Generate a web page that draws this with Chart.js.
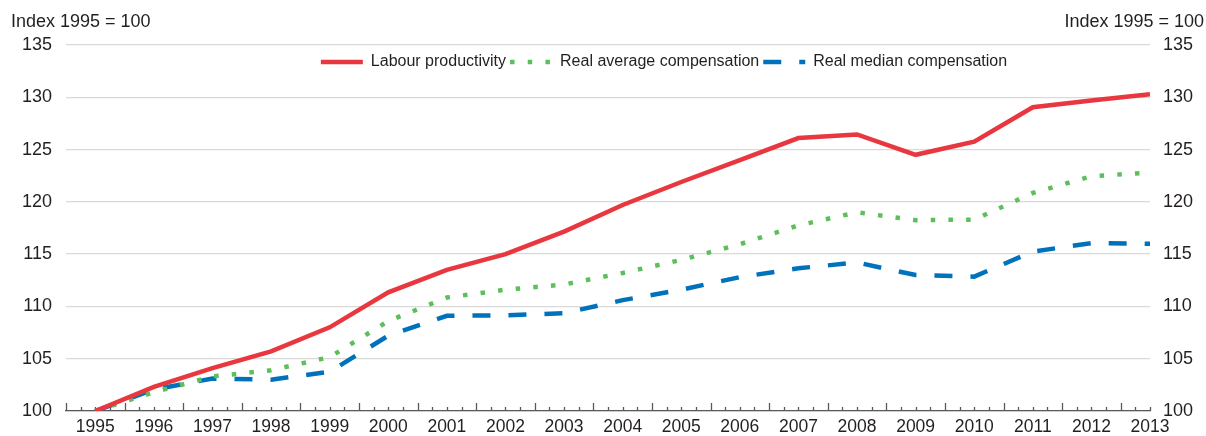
<!DOCTYPE html>
<html>
<head>
<meta charset="utf-8">
<script src="https://cdn.jsdelivr.net/npm/chart.js@4"></script>
<style>
html,body{margin:0;padding:0;background:#fff;}
canvas{display:block;}
</style>
</head>
<body>
<canvas id="c" width="1206" height="436"></canvas>
<script>
const years = [1995,1996,1997,1998,1999,2000,2001,2002,2003,2004,2005,2006,2007,2008,2009,2010,2011,2012,2013];
const labourProductivity      = [100,102.3,104.1,105.7,108.0,111.35,113.5,115.0,117.15,119.7,121.9,124.0,126.1,126.45,124.5,125.75,129.05,129.7,130.3];
const realAverageCompensation = [100,101.8,103.3,103.9,105.15,108.6,110.85,111.6,112.1,113.2,114.45,115.95,117.75,119.0,118.25,118.3,120.85,122.45,122.8];
const realMedianCompensation  = [100,102.05,103.1,103.0,103.75,107.2,109.1,109.15,109.35,110.6,111.6,112.8,113.65,114.2,113.0,112.85,115.25,116.05,116.0];
const yTicks = [100,105,110,115,120,125,130,135];
const seriesNames = ['Labour productivity','Real average compensation','Real median compensation'];
const unitLabel = 'Index 1995 = 100';

const FONT = "'Liberation Sans', Arial, sans-serif";
const TEXT = '#231f20';
const RED = '#E8373F';
const GREEN = '#5DBE5C';
const BLUE = '#0072BC';

const pts = vals => years.map((y, i) => ({ x: y, y: vals[i] }));

const unitPlugin = {
  id: 'unitText',
  afterDraw(chart) {
    const ctx = chart.ctx;
    ctx.save();
    ctx.font = '18px ' + FONT;
    ctx.fillStyle = TEXT;
    ctx.textBaseline = 'middle';
    ctx.textAlign = 'left';
    ctx.fillText(unitLabel, 11, 22);
    ctx.textAlign = 'right';
    ctx.fillText(unitLabel, 1204, 22);
    ctx.restore();
  }
};

const tickPlugin = {
  id: 'quarterTicks',
  beforeDatasetsDraw(chart) {
    const xs = chart.scales.x;
    const ctx = chart.ctx;
    const yb = chart.chartArea.bottom;
    ctx.save();
    ctx.strokeStyle = '#595959';
    ctx.lineWidth = 1.3;
    for (let k = 0; ; k++) {
      const v = xs.min + k * 0.25;
      if (v > xs.max + 1e-9) break;
      const major = k % 4 === 0;
      const px = Math.round(xs.getPixelForValue(v)) + 0.5;
      ctx.beginPath();
      ctx.moveTo(px, yb);
      ctx.lineTo(px, yb - (major ? 8 : 4));
      ctx.stroke();
    }
    ctx.restore();
  }
};

const legendShift = {
  id: 'legendShift',
  afterLayout(chart) {
    const lg = chart.legend;
    if (!lg) return;
    const dx = 61, dy = 5, h = 28;
    lg.left += dx; lg.right += dx;
    lg.top += dy;
    lg.bottom = lg.top + h;
    lg.height = h;
  }
};

const tickFont = { family: FONT, size: 18 };

new Chart(document.getElementById('c'), {
  type: 'line',
  data: {
    datasets: [
      { label: seriesNames[0], data: pts(labourProductivity), borderColor: RED, backgroundColor: RED,
        borderWidth: 4.5, pointRadius: 0, tension: 0, borderCapStyle: 'butt' },
      { label: seriesNames[1], data: pts(realAverageCompensation), borderColor: GREEN, backgroundColor: GREEN,
        borderWidth: 4.5, pointRadius: 0, tension: 0, borderDash: [4.5, 13.2], borderCapStyle: 'butt' },
      { label: seriesNames[2], data: pts(realMedianCompensation), borderColor: BLUE, backgroundColor: BLUE,
        borderWidth: 4.5, pointRadius: 0, tension: 0, borderDash: [18, 18], borderCapStyle: 'butt' }
    ]
  },
  options: {
    responsive: false,
    animation: false,
    layout: { padding: { top: 45, left: 0, right: 0, bottom: 0 } },
    plugins: {
      legend: {
        position: 'top',
        maxHeight: 0.001,
        labels: {
          usePointStyle: true, pointStyle: 'line', pointStyleWidth: 42,
          padding: 4, color: TEXT, font: { family: FONT, size: 16 },
          generateLabels: chart => {
            const items = Chart.defaults.plugins.legend.labels.generateLabels(chart);
            items.forEach(it => {
              const ds = chart.data.datasets[it.datasetIndex];
              it.lineDash = ds.borderDash || [];
              it.lineWidth = ds.borderWidth;
              it.strokeStyle = ds.borderColor;
              it.fillStyle = ds.borderColor;
              it.lineCap = 'butt';
              it.pointStyle = 'line';
            });
            return items;
          }
        }
      },
      tooltip: { enabled: false }
    },
    scales: {
      x: {
        type: 'linear', min: 1994.5, max: 2013,
        afterBuildTicks: s => { s.ticks = years.map(v => ({ value: v })); },
        afterFit: s => { s.height = 25; },
        grid: { display: false, drawTicks: false },
        border: { display: true, color: '#595959', width: 1.3 },
        ticks: { color: TEXT, font: { family: FONT, size: 17.5 }, padding: 6, maxRotation: 0, autoSkip: false,
                 callback: v => String(v) }
      },
      y: {
        position: 'left', min: 100, max: 135,
        afterBuildTicks: s => { s.ticks = yTicks.map(v => ({ value: v })); },
        afterFit: s => { s.width = 66; },
        grid: { color: '#d9d9d9', lineWidth: 1.3, drawTicks: false },
        border: { display: false },
        ticks: { color: TEXT, font: tickFont, padding: 14 }
      },
      y2: {
        position: 'right', min: 100, max: 135,
        afterBuildTicks: s => { s.ticks = yTicks.map(v => ({ value: v })); },
        afterFit: s => { s.width = 56; },
        grid: { drawOnChartArea: false, drawTicks: false },
        border: { display: false },
        ticks: { color: TEXT, font: tickFont, padding: 13 }
      }
    }
  },
  plugins: [unitPlugin, tickPlugin, legendShift]
});
</script>
</body>
</html>
